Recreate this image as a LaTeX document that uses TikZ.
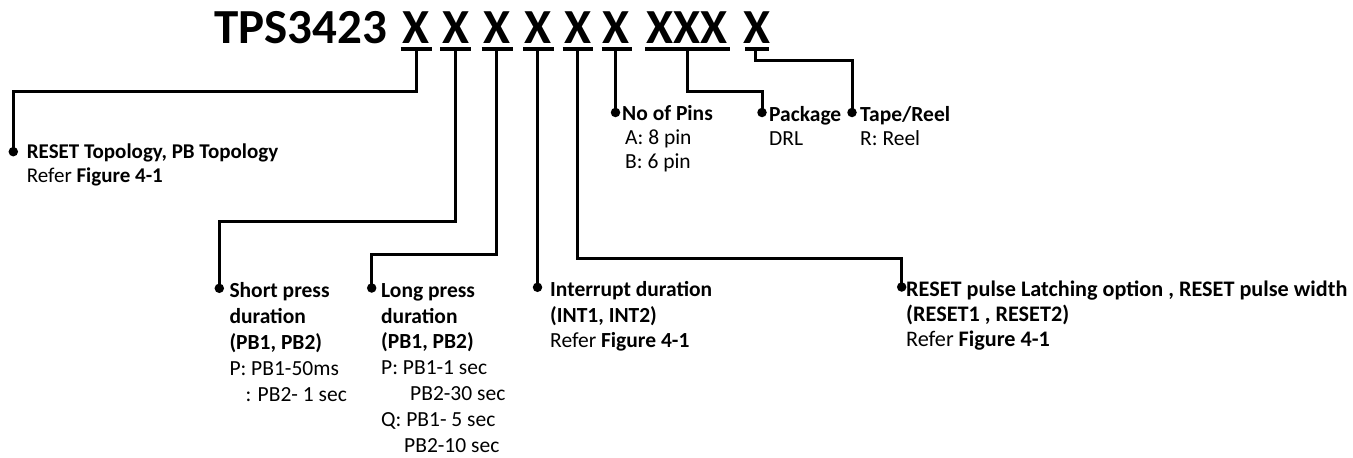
\documentclass[tikz,border=0pt]{standalone}
\usepackage{fontspec}
\setmainfont{Carlito}
\newcommand\txtlines[2]{\vtop{\baselineskip=#1pt\lineskiplimit=-10pt\halign{##\hfil\cr#2\crcr}}}
\begin{document}
\begin{tikzpicture}[x=1pt,y=-1pt,
  wire/.style={line width=3pt, line join=miter},
  uline/.style={line width=3.2pt},
  dot/.style={circle, fill=black, inner sep=0pt, minimum size=9.5pt},
  lbl/.style={anchor=base west, inner sep=0pt, font=\fontsize{21.5}{25}\selectfont},
  ttl/.style={anchor=base, inner sep=0pt, font=\fontsize{49}{50}\selectfont\bfseries}]
\useasboundingbox (0,0) rectangle (1353,458);
% title
\node[ttl, anchor=base west] (tps) at (214,43) {TPS3423};
\node[ttl] (x1) at (416,43) {X};
\node[ttl] (x2) at (455.5,43) {X};
\node[ttl] (x3) at (497,43) {X};
\node[ttl] (x4) at (538,43) {X};
\node[ttl] (x5) at (577.5,43) {X};
\node[ttl] (x6) at (616,43) {X};
\node[ttl] (x7) at (687,43) {XXX};
\node[ttl] (x8) at (757,43) {X};
% underlines
\draw[uline] (400.7,49) -- (431.7,49);
\draw[uline] (440,49) -- (470.7,49);
\draw[uline] (481.7,49) -- (512.7,49);
\draw[uline] (523,49) -- (554,49);
\draw[uline] (562.7,49) -- (593,49);
\draw[uline] (601.7,49) -- (631.7,49);
\draw[uline] (645,49) -- (730,49);
\draw[uline] (745,49) -- (769.3,49);
% stem coordinates
\coordinate (s1) at (416,49);
\coordinate (s2) at (455.7,49);
\coordinate (s3) at (496.7,49);
\coordinate (s4) at (537.5,49);
\coordinate (s5) at (577.3,49);
\coordinate (s6) at (615.5,49);
\coordinate (s7) at (687,49);
\coordinate (s8) at (755.5,49);
% bend levels
\coordinate (k1) at (0,91);
\coordinate (k2) at (0,221);
\coordinate (k3) at (0,254);
\coordinate (k5) at (0,258.3);
\coordinate (k7) at (0,91.7);
\coordinate (k8) at (0,60.7);
% dots
\node[dot] (d1) at (13.3,151.7) {};
\node[dot] (d2) at (219.3,288.3) {};
\node[dot] (d3) at (371.7,288) {};
\node[dot] (d4) at (537.5,287.3) {};
\node[dot] (d5) at (901.7,287) {};
\node[dot] (d6) at (615.5,112.5) {};
\node[dot] (d7) at (762,112.5) {};
\node[dot] (d8) at (852,112.5) {};
% connectors
\draw[wire] (s1) |- (d1 |- k1) -- (d1.center);
\draw[wire] (s2) |- (d2 |- k2) -- (d2.center);
\draw[wire] (s3) |- (d3 |- k3) -- (d3.center);
\draw[wire] (s4) -- (d4.center);
\draw[wire] (s5) |- (d5 |- k5) -- (d5.center);
\draw[wire] (s6) -- (d6.center);
\draw[wire] (s7) |- (d7 |- k7) -- (d7.center);
\draw[wire] (s8) |- (d8 |- k8) -- (d8.center);
% labels
\node[lbl, font=\fontsize{21}{25}\selectfont] (t1) at (26.7,158.3) {\txtlines{24.4}{\textbf{RESET Topology, PB Topology}\cr Refer \textbf{Figure 4-1}}};
\node[lbl] (t2) at (229.3,297.3) {\txtlines{26}{\textbf{Short press}\cr \textbf{duration}\cr \textbf{(PB1, PB2)}\cr P: PB1-50ms\cr \hskip16pt: PB2- 1 sec}};
\node[lbl] (t3) at (381,297.3) {\txtlines{25.8}{\textbf{Long press}\cr \textbf{duration}\cr \textbf{(PB1, PB2)}\cr P: PB1-1 sec\cr \hskip29pt PB2-30 sec\cr Q: PB1- 5 sec\cr \hskip23pt PB2-10 sec}};
\node[lbl] (t4) at (550,296.5) {\txtlines{25.5}{\textbf{Interrupt duration}\cr \textbf{(INT1, INT2)}\cr Refer \textbf{Figure 4-1}}};
\node[lbl, font=\fontsize{22.2}{25}\selectfont] (t5) at (906,296) {\txtlines{25}{\textbf{RESET pulse Latching option , RESET pulse width}\cr \textbf{(RESET1 , RESET2)}\cr Refer \textbf{Figure 4-1}}};
\node[lbl] (t6) at (622,120) {\txtlines{24.3}{\textbf{No of Pins}\cr \hskip3pt A: 8 pin\cr \hskip3pt B: 6 pin}};
\node[lbl] (t7) at (769,121) {\txtlines{24.5}{\textbf{Package}\cr DRL}};
\node[lbl] (t8) at (860,121) {\txtlines{24.5}{\textbf{Tape/Reel}\cr R: Reel}};
\end{tikzpicture}
\end{document}
